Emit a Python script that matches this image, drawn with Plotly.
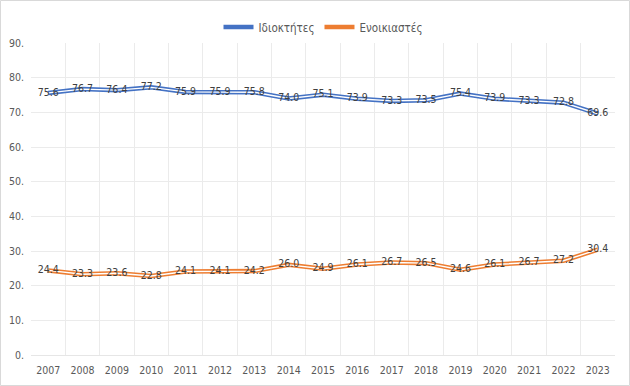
import plotly.graph_objects as go

years = [str(y) for y in range(2007, 2024)]
owners = [75.6, 76.7, 76.4, 77.2, 75.9, 75.9, 75.8, 74.0, 75.1, 73.9, 73.3, 73.5, 75.4, 73.9, 73.3, 72.8, 69.6]
renters = [24.4, 23.3, 23.6, 22.8, 24.1, 24.1, 24.2, 26.0, 24.9, 26.1, 26.7, 26.5, 24.6, 26.1, 26.7, 27.2, 30.4]
names = ["Ιδιοκτήτες", "Ενοικιαστές"]
colors = ["#4472C4", "#ED7D31"]
ytick_vals = list(range(0, 100, 10))
ytick_text = [f"{v}." for v in ytick_vals]

FONT = "Liberation Sans Narrow, DejaVu Sans Condensed, Roboto, sans-serif"
L, R, T, B = 31, 15, 43, 31
PW, PH = 630 - L - R, 386 - T - B

fig = go.Figure()
for name, vals, col in zip(names, [owners, renters], colors):
    fig.add_trace(go.Scatter(x=years, y=vals, mode="lines", name=name,
                             line=dict(color=col, width=4.5), legendgroup=name))
    fig.add_trace(go.Scatter(x=years, y=vals, mode="lines+text", name=name,
                             line=dict(color="white", width=1.4), legendgroup=name,
                             showlegend=False, text=[f"{v:.1f}" for v in vals],
                             textposition="middle center",
                             textfont=dict(color="#404040", size=10.5, family=FONT),
                             hoverinfo="skip"))

fig.update_layout(
    width=630, height=386,
    paper_bgcolor="white", plot_bgcolor="white",
    margin=dict(l=L, r=R, t=T, b=B, autoexpand=False),
    font=dict(family=FONT, color="#595959", size=10.5),
    legend=dict(orientation="h", x=0.5, xanchor="center", y=0.93, yanchor="middle",
                yref="container", font=dict(size=11.5, color="#595959")),
    showlegend=True,
)
fig.update_xaxes(type="category", range=[-0.5, len(years) - 0.5],
                 tickson="boundaries", showgrid=True, gridcolor="#EBEBEB",
                 gridwidth=1, ticks="", showline=True, linecolor="#E6E6E6",
                 tickangle=0, ticklabelstandoff=5,
                 tickfont=dict(size=10.5, color="#595959"), automargin=False)
fig.update_yaxes(range=[0, 90], tickvals=ytick_vals, ticktext=ytick_text, showgrid=True,
                 gridcolor="#EBEBEB", zeroline=False, showline=False,
                 tickfont=dict(size=10.5, color="#595959"), ticklabelstandoff=6,
                 automargin=False)
fig.add_shape(type="rect", xref="paper", yref="paper",
              x0=(-L + 0.5) / PW, x1=1 + (R - 0.5) / PW,
              y0=(-B + 0.5) / PH, y1=1 + (T - 0.5) / PH,
              line=dict(color="#D9D9D9", width=1))
fig.write_html("out.html", config={"displayModeBar": False},
               post_script="document.body.style.margin='0';")
